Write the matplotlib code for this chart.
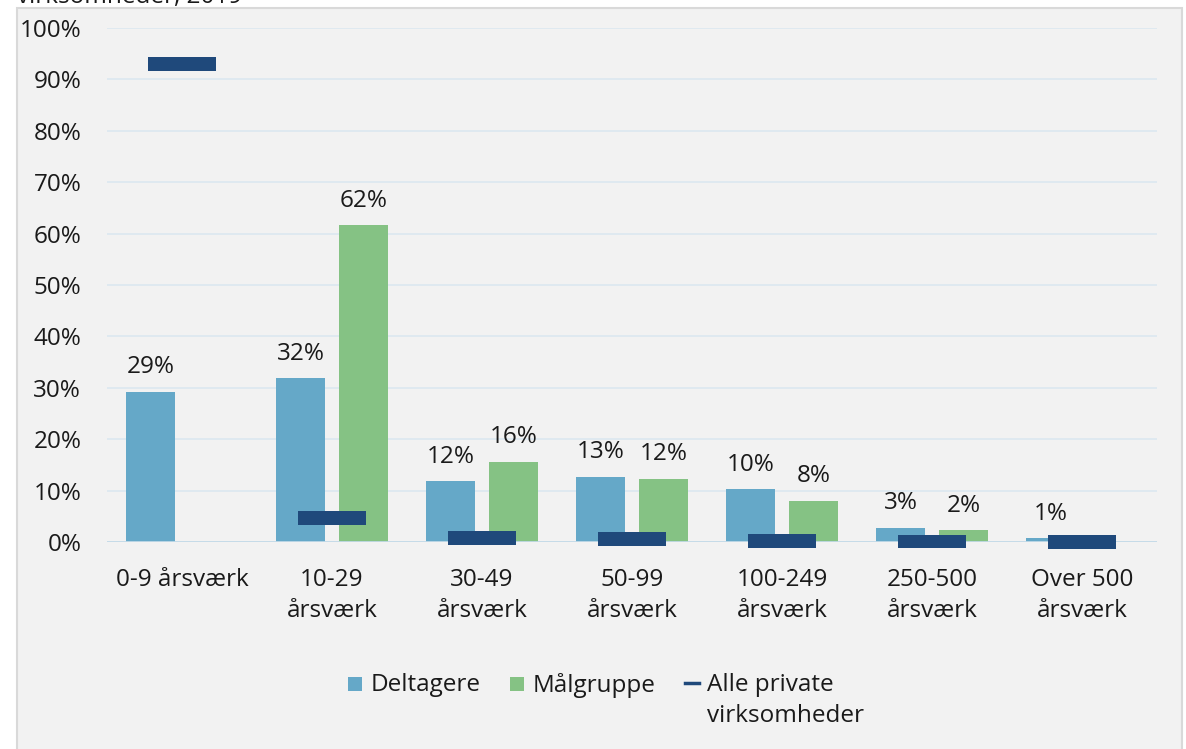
import matplotlib.pyplot as plt
from matplotlib.patches import Rectangle
from matplotlib.lines import Line2D
import numpy as np

plt.rcParams['font.family'] = ['Open Sans', 'DejaVu Sans']

groups = ['0-9 årsværk', '10-29\nårsværk', '30-49\nårsværk', '50-99\nårsværk',
          '100-249\nårsværk', '250-500\nårsværk', 'Over 500\nårsværk']
deltagere = [29.2, 31.9, 11.8, 12.7, 10.3, 2.8, 0.7]
maalgruppe = [0.0, 61.6, 15.6, 12.3, 8.0, 2.3, 0.0]
alle_private = [93.0, 4.7, 0.8, 0.6, 0.2, 0.1, 0.0]

c_delt = '#65a8c8'
c_maal = '#85c284'
c_alle = '#1f497b'
fs = 17.5

W, H = 1186, 749
fig = plt.figure(figsize=(W / 100, H / 100), dpi=100)
fig.patch.set_facecolor('white')

# grey panel behind the chart
fig.patches.append(Rectangle((17 / W, -0.01), (1182 - 17) / W, (H - 8) / H + 0.01,
                             transform=fig.transFigure, facecolor='#f2f2f2',
                             edgecolor='#d9d9d9', linewidth=1.5, zorder=-1))

# title, mostly cut off above the panel
fig.text(17 / W, 1 - 3 / H, 'virksomheder, 2019', fontsize=fs, color='#1a1a1a',
         ha='left', va='baseline')

ax = fig.add_axes([107 / W, (H - 542) / H, (1157 - 107) / W, 514 / H], zorder=2)
ax.set_facecolor('none')

x = np.arange(len(groups))
bw = 0.333
off = 0.21

ax.bar(x - off, deltagere, width=bw, color=c_delt, zorder=2)
ax.bar(x + off, maalgruppe, width=bw, color=c_maal, zorder=2)

# dash markers for all private firms (may stick out below the axis)
dash_h = 2.7
dashes = ax.bar(x, [dash_h] * len(x), width=0.45,
                bottom=[v - dash_h / 2 for v in alle_private], color=c_alle, zorder=4)
for p in dashes:
    p.set_clip_on(False)

for xi, v in zip(x, deltagere):
    if v > 0:
        ax.annotate(f'{v:.0f}%', (xi - off, v), xytext=(0, 9), textcoords='offset points',
                    ha='center', va='bottom', fontsize=fs, color='#1a1a1a')
for xi, v in zip(x, maalgruppe):
    if v > 0:
        ax.annotate(f'{v:.0f}%', (xi + off, v), xytext=(0, 9), textcoords='offset points',
                    ha='center', va='bottom', fontsize=fs, color='#1a1a1a')

ax.set_xlim(-0.5, len(groups) - 0.5)
ax.set_ylim(0, 100)
ax.set_yticks(range(0, 101, 10))
ax.set_yticklabels([f'{t}%' for t in range(0, 101, 10)])
ax.set_xticks(x)
ax.set_xticklabels(groups, linespacing=1.38)
ax.tick_params(axis='y', length=0, pad=18.5, labelsize=fs, labelcolor='#1a1a1a')
ax.tick_params(axis='x', length=0, pad=19, labelsize=fs, labelcolor='#1a1a1a')

ax.grid(axis='y', color='#dce8f0', linewidth=1.2, zorder=0)
ax.set_axisbelow(True)
for s in ax.spines.values():
    s.set_visible(False)
ax.axhline(0, color='#c3dae8', linewidth=2, zorder=3)

# legend drawn by hand
def fy(py):
    return 1 - py / H

fig.patches.append(Rectangle((348 / W, fy(691)), 14 / W, 14 / H, transform=fig.transFigure,
                             facecolor=c_delt, zorder=3))
fig.text(371 / W, fy(685), 'Deltagere', fontsize=fs, va='center', ha='left', color='#1a1a1a')
fig.patches.append(Rectangle((510 / W, fy(691)), 14 / W, 14 / H, transform=fig.transFigure,
                             facecolor=c_maal, zorder=3))
fig.text(533 / W, fy(685), 'Målgruppe', fontsize=fs, va='center', ha='left', color='#1a1a1a')
fig.lines.append(Line2D([685 / W, 699 / W], [fy(683), fy(683)], transform=fig.transFigure,
                        color=c_alle, linewidth=2.5))
fig.text(707 / W, fy(685), 'Alle private', fontsize=fs, va='center', ha='left', color='#1a1a1a')
fig.text(707 / W, fy(716), 'virksomheder', fontsize=fs, va='center', ha='left', color='#1a1a1a')

fig.savefig('out.png', dpi=100)
